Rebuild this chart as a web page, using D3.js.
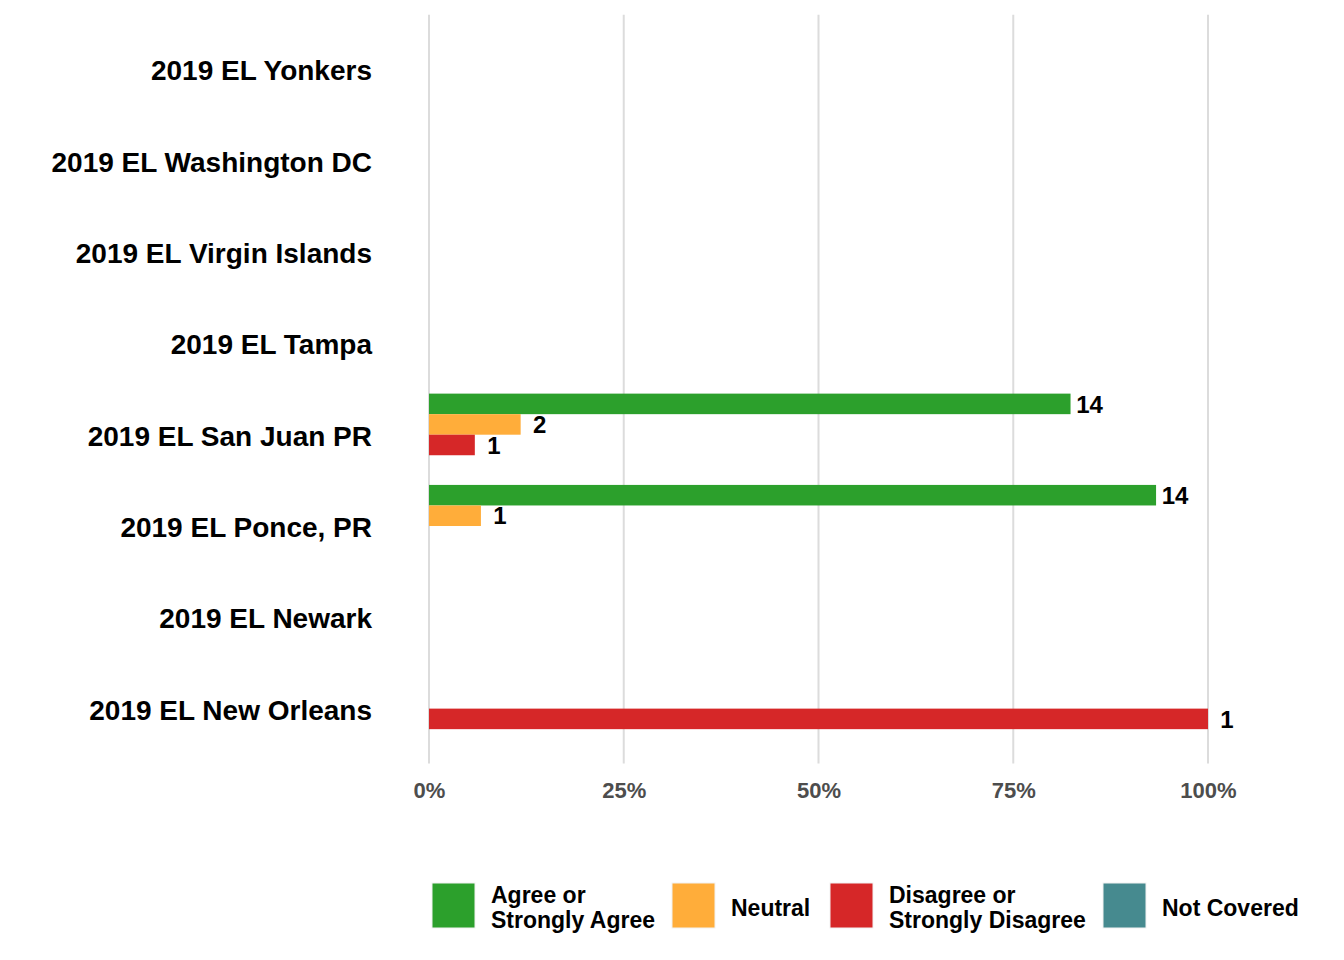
<!DOCTYPE html>
<html>
<head>
<meta charset="utf-8">
<script src="https://cdn.jsdelivr.net/npm/d3@7"></script>
<style>
  html, body { margin: 0; padding: 0; background: #fff; }
  svg { display: block; font-family: "Liberation Sans", Arial, sans-serif; font-weight: bold; }
</style>
</head>
<body>
<svg id="chart" width="1344" height="960"></svg>
<script>
const categories = ["2019 EL Yonkers", "2019 EL Washington DC", "2019 EL Virgin Islands", "2019 EL Tampa",
  "2019 EL San Juan PR", "2019 EL Ponce, PR", "2019 EL Newark", "2019 EL New Orleans"];
const seriesNames = ["Agree or Strongly Agree", "Neutral", "Disagree or Strongly Disagree", "Not Covered"];
const legendLines = [["Agree or", "Strongly Agree"], ["Neutral"], ["Disagree or", "Strongly Disagree"], ["Not Covered"]];
const seriesColors = ["#2ca02c", "#ffad3a", "#d62728", "#468a8f"];
const agree      = [0, 0, 0, 0, 14, 14, 0, 0];
const neutral    = [0, 0, 0, 0, 2, 1, 0, 0];
const disagree   = [0, 0, 0, 0, 1, 0, 0, 1];
const notCovered = [0, 0, 0, 0, 0, 0, 0, 0];
const xTicks = [0, 0.25, 0.5, 0.75, 1];

const seriesValues = [agree, neutral, disagree, notCovered];
const totals = categories.map((c, i) => d3.sum(seriesValues, s => s[i]));
const rows = [];
categories.forEach((c, i) => {
  seriesNames.forEach((s, j) => {
    const v = seriesValues[j][i];
    if (v > 0) rows.push({cat: c, series: s, count: v, pct: v / totals[i], color: seriesColors[j]});
  });
});

const svg = d3.select("#chart");
const x = d3.scaleLinear().domain([0, 1]).range([429, 1208]);
const y = d3.scaleBand().domain(categories).range([14.7, 763.4]).paddingInner(0.1).paddingOuter(0.15);
const yInner = d3.scaleBand().domain(seriesNames).range([0, y.bandwidth()]);

// grid
svg.append("g").selectAll("line").data(xTicks).join("line")
  .attr("x1", d => x(d)).attr("x2", d => x(d))
  .attr("y1", 14.7).attr("y2", 763.4)
  .attr("stroke", "#dcdcdc").attr("stroke-width", 2);

// x axis labels
const xAxis = d3.axisBottom(x).tickValues(xTicks).tickFormat(d3.format(".0%")).tickSize(0).tickPadding(0);
const gx = svg.append("g").attr("transform", "translate(0,782)").call(xAxis);
gx.select(".domain").remove();
gx.selectAll("text").attr("fill", "#4d4d4d").attr("font-size", 22).attr("font-weight", "bold")
  .attr("font-family", "Liberation Sans, Arial, sans-serif");

// y axis labels
const yAxis = d3.axisLeft(y).tickSize(0).tickPadding(0);
const gy = svg.append("g").attr("transform", "translate(372,2)").call(yAxis);
gy.select(".domain").remove();
gy.selectAll("text").attr("fill", "#000").attr("font-size", 28).attr("font-weight", "bold")
  .attr("font-family", "Liberation Sans, Arial, sans-serif");

// bars
svg.append("g").selectAll("rect").data(rows).join("rect")
  .attr("x", x(0))
  .attr("y", d => y(d.cat) + yInner(d.series))
  .attr("width", d => x(d.pct) - x(0))
  .attr("height", yInner.bandwidth())
  .attr("fill", d => d.color);

// value labels
svg.append("g").selectAll("text").data(rows).join("text")
  .attr("x", d => x(d.pct) + 19)
  .attr("y", d => y(d.cat) + yInner(d.series) + yInner.bandwidth() / 2)
  .attr("dy", "0.36em")
  .attr("text-anchor", "middle")
  .attr("font-size", 24).attr("fill", "#000")
  .text(d => d.count);

// legend
const legendX = [432, 672, 830, 1103];
const leg = svg.append("g");
seriesNames.forEach((s, j) => {
  const g = leg.append("g").attr("transform", `translate(${legendX[j]},883)`);
  g.append("rect").attr("x", 0).attr("y", 0).attr("width", 43).attr("height", 45)
    .attr("fill", seriesColors[j]).attr("stroke", "#f2f2f2").attr("stroke-width", 1);
  const lines = legendLines[j];
  const t = g.append("text").attr("font-size", 23).attr("fill", "#000");
  lines.forEach((ln, k) => {
    t.append("tspan").attr("x", 59)
      .attr("y", lines.length === 1 ? 33 : 20 + k * 25)
      .text(ln);
  });
});
</script>
</body>
</html>
